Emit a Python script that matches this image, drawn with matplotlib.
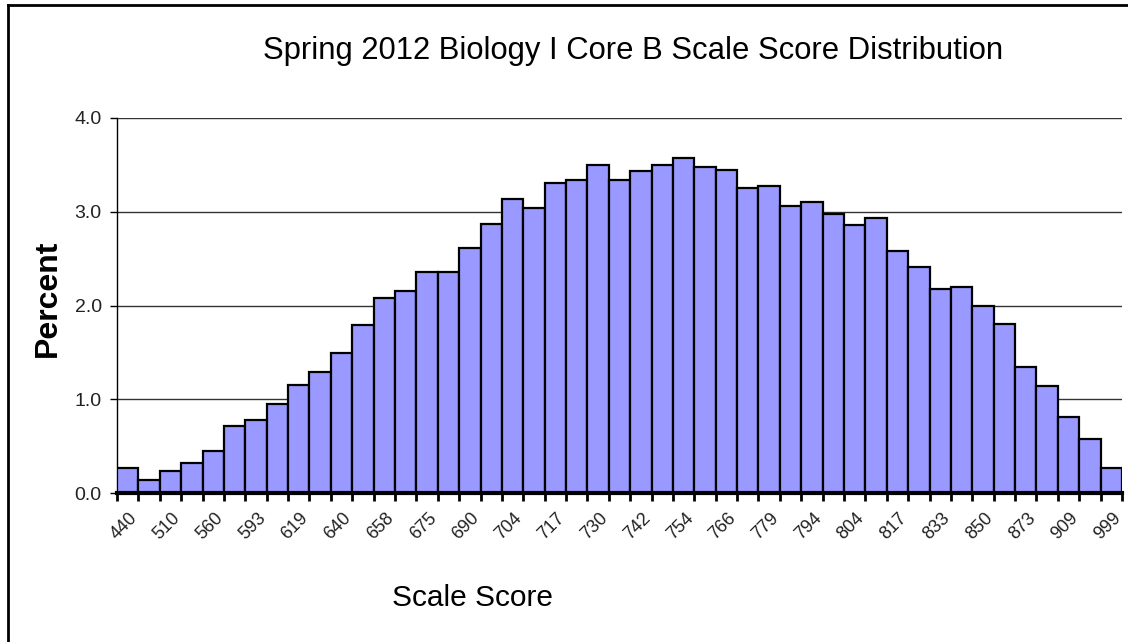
import numpy as np
import matplotlib
matplotlib.use("Agg")
import matplotlib.pyplot as plt
import matplotlib.transforms as mtransforms
from matplotlib.lines import Line2D

plt.rcParams['font.family'] = ['Liberation Sans', 'DejaVu Sans']

# percent of students per scale-score bin (47 bins)
percent = [0.27, 0.14, 0.24, 0.32, 0.45, 0.71, 0.78, 0.95, 1.15, 1.29,
           1.49, 1.79, 2.08, 2.16, 2.36, 2.36, 2.61, 2.87, 3.14, 3.04,
           3.31, 3.34, 3.50, 3.34, 3.44, 3.50, 3.57, 3.48, 3.45, 3.25,
           3.28, 3.06, 3.10, 2.98, 2.86, 2.93, 2.58, 2.41, 2.18, 2.20,
           1.99, 1.80, 1.34, 1.14, 0.81, 0.58, 0.27]
# only every other bin is labelled
tick_labels = ['440', '510', '560', '593', '619', '640', '658', '675', '690',
               '704', '717', '730', '742', '754', '766', '779', '794', '804',
               '817', '833', '850', '873', '909', '999']
y_ticks = [0.0, 1.0, 2.0, 3.0, 4.0]

W, H = 1128, 642
fig = plt.figure(figsize=(W / 100, H / 100), dpi=100)
ax = fig.add_axes([117 / W, 1 - 493 / H, (1122 - 117) / W, (493 - 118) / H])

x = np.arange(len(percent))
ax.bar(x, percent, width=1.0, color='#9999ff', edgecolor='black',
       linewidth=1.6, zorder=3)
ax.set_xlim(-0.5, len(percent) - 0.5)
ax.set_ylim(0, 4)

# y axis
ax.set_yticks(y_ticks)
ax.set_yticklabels([f'{v:.1f}' for v in y_ticks],
                   family=['Liberation Sans Narrow', 'Liberation Sans'])
ax.yaxis.grid(True, color='#333333', linewidth=1)
ax.set_axisbelow(True)
ax.tick_params(axis='y', length=5, width=1, labelsize=14, pad=6,
               labelcolor='#222222')

# x axis: marks between bins, labels on every other bin
ax.set_xticks(x[::2])
ax.set_xticklabels(tick_labels, rotation=45, ha='right', va='top',
                   rotation_mode='anchor', color='#222222', fontsize=13)
ax.tick_params(axis='x', which='major', length=0, pad=12)
ax.set_xticks(np.arange(-0.5, len(percent)), minor=True)
ax.tick_params(axis='x', which='minor', length=6, width=2, direction='out')
shift = mtransforms.ScaledTranslation(1 / 100, 0, fig.dpi_scale_trans)
for lab in ax.get_xticklabels():
    lab.set_transform(lab.get_transform() + shift)

for s in ['top', 'right']:
    ax.spines[s].set_visible(False)
ax.spines['bottom'].set_linewidth(3)
ax.spines['bottom'].set_zorder(4)
ax.spines['left'].set_linewidth(1)

# texts
fig.text(633 / W, 1 - 51 / H, 'Spring 2012 Biology I Core B Scale Score Distribution',
         ha='center', va='center', fontsize=22.3)
fig.text(48 / W, 1 - 298 / H, 'Percent', rotation=90, fontweight='bold',
         fontsize=23, ha='center', va='center')
fig.text(473 / W, 1 - 598 / H, 'Scale Score', fontsize=21.5,
         ha='center', va='center')

# outer frame (cropped on the right and bottom)
fig.add_artist(Line2D([8 / W, 8 / W], [0, 1 - 5 / H], transform=fig.transFigure,
                      color='black', linewidth=2))
fig.add_artist(Line2D([8 / W, 1], [1 - 5 / H, 1 - 5 / H], transform=fig.transFigure,
                      color='black', linewidth=2))

fig.savefig('out.png', dpi=100)
